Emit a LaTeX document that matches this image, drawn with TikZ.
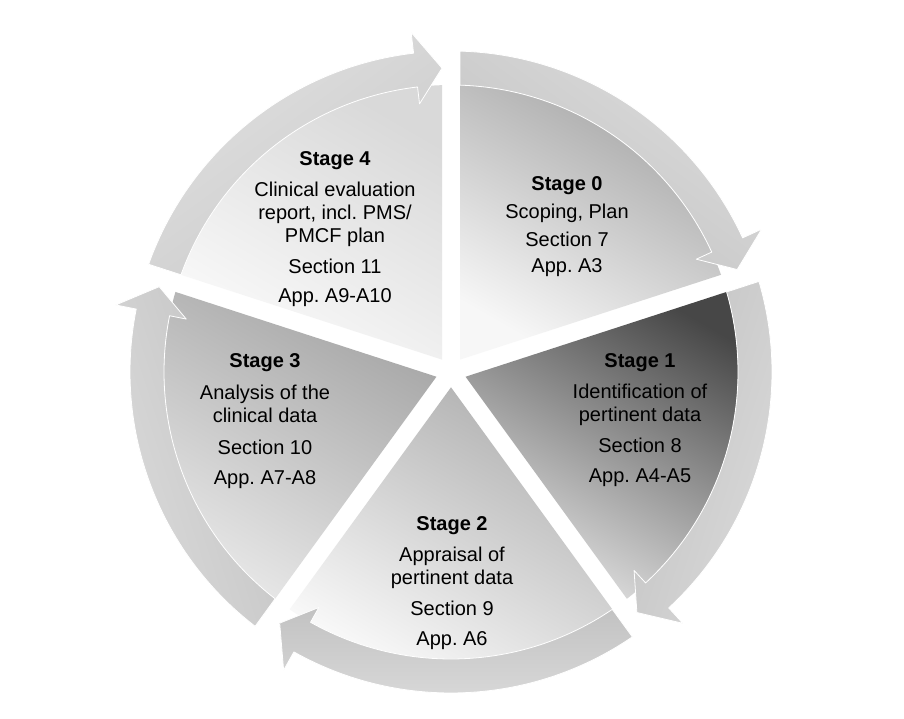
\documentclass[tikz,border=0pt]{standalone}
\usepackage{fontspec}
\setmainfont{Liberation Sans}
\frenchspacing
\usetikzlibrary{calc}
\tikzset{
  lbl/.style={align=center, inner sep=0pt, anchor=north, text=black,
    font=\fontsize{20}{23}\selectfont},
}
\newcommand\mkslice[3]{% bisector, dark, light
  \pgfmathsetmacro\aS{#1+36-1.797}
  \pgfmathsetmacro\aE{#1-36+1.797}
  \shade[top color=#2, bottom color=#3, shading angle=-30]
    (#1:15.3pt) -- (\aS:287pt) arc[start angle=\aS, end angle=\aE, radius=287pt] -- cycle;
}
\newcommand\mkarrow[3]{% bisector, light, dark
  \pgfmathsetmacro\sA{#1+36-1.607}
  \pgfmathsetmacro\sB{#1+36-1.797}
  \pgfmathsetmacro\tp{#1-36+1.697}
  \pgfmathsetmacro\bs{\tp+5}
  \shade[top color=#2, bottom color=#3, shading angle=#1-90, draw=white, line width=0.8pt, line join=round]
    (\sA:321pt) arc[start angle=\sA, end angle=\bs, radius=321pt]
    -- (\bs:342pt) -- (\tp:304pt) -- (\bs:270pt) -- (\bs:287pt)
    arc[start angle=\bs, end angle=\sB, radius=287pt] -- cycle;
}
\begin{document}
\begin{tikzpicture}[x=1pt,y=1pt]
\fill[white] (0,0) rectangle (904,718);
\useasboundingbox (0,0) rectangle (904,718);
\begin{scope}[shift={(451,346)}]
  \mkslice{54}{gray!70}{gray!6}
  \mkslice{-18}{black!72}{gray!22}
  \mkslice{-90}{gray!62}{gray!5}
  \mkslice{-162}{gray!70}{gray!18}
  \mkslice{126}{gray!30}{gray!4}
  \mkarrow{54}{gray!28}{gray!48}
  \mkarrow{-18}{gray!28}{gray!48}
  \mkarrow{-90}{gray!28}{gray!48}
  \mkarrow{-162}{gray!28}{gray!48}
  \mkarrow{126}{gray!24}{gray!42}
\end{scope}
\node[lbl] (s0) at (567,542) {\textbf{Stage 0}\\[5pt]Scoping, Plan\\[5pt]Section 7\\[3pt]App. A3};
\node[lbl] (s1) at (640,365) {\textbf{Stage 1}\\[8pt]Identification of\\pertinent data\\[8pt]Section 8\\[7pt]App. A4-A5};
\node[lbl] (s2) at (452,202) {\textbf{Stage 2}\\[8pt]Appraisal of\\pertinent data\\[8pt]Section 9\\[7pt]App. A6};
\node[lbl] (s3) at (265,365) {\textbf{Stage 3}\\[9pt]Analysis of the\\clinical data\\[9pt]Section 10\\[7pt]App. A7-A8};
\node[lbl] (s4) at (335,567) {\textbf{Stage 4}\\[8pt]Clinical evaluation\\report, incl. PMS/\\PMCF plan\\[8pt]Section 11\\[6pt]App. A9-A10};
\end{tikzpicture}
\end{document}
